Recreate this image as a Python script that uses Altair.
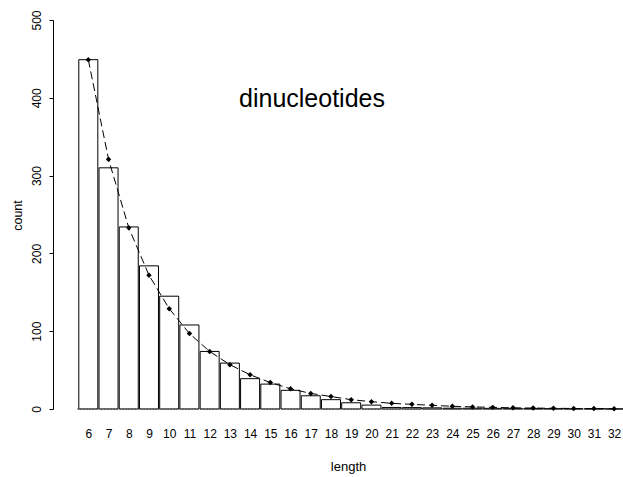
import altair as alt
import pandas as pd

lengths = [6, 7, 8, 9, 10, 11, 12, 13, 14, 15, 16, 17, 18, 19, 20,
           21, 22, 23, 24, 25, 26, 27, 28, 29, 30, 31, 32]
bar_counts = [449, 310, 234, 184, 145, 108, 74, 59, 39, 32,
              24, 17, 12, 8, 5, 2, 1.8, 1.5, 1, 1,
              0.8, 0.8, 0.5, 0.5, 0.3, 0.3, 0.2]
fit_counts = [449, 321, 233, 172, 129, 97, 74, 57, 44, 34,
              26, 20, 16, 12, 9.4, 7.3, 6, 4.7, 3.5, 2.7,
              2.1, 1.5, 1.2, 0.9, 0.7, 0.5, 0.4]
y_ticks = [0, 100, 200, 300, 400, 500]
annotation = "dinucleotides"

FONT = "Liberation Sans"

df = pd.DataFrame({"length": lengths, "count": bar_counts, "fit": fit_counts})

x_scale = alt.Scale(domain=[4.254, 32.44], nice=False, zero=False)
y_scale = alt.Scale(domain=[0, 500], nice=False)

x_axis = alt.Axis(
    title="length", values=lengths, domain=False, ticks=False, tickSize=0,
    grid=False, labelFontSize=12, labelFont=FONT, labelColor="black",
    labelPadding=28, labelBaseline="alphabetic", labelFlush=False,
    labelOverlap=False, titleFont=FONT, titleFontSize=13,
    titleFontWeight="normal", titleColor="black", titleX=295, titleY=61,
    titleBaseline="alphabetic", titleAlign="center",
)
y_axis = alt.Axis(
    title="count", values=y_ticks, grid=False, domainColor="black",
    tickColor="black", tickSize=4, labelAngle=270, labelAlign="center",
    labelBaseline="alphabetic", labelPadding=9, labelFontSize=12,
    labelFont=FONT, labelColor="black", titleFont=FONT, titleFontSize=12.5,
    titleFontWeight="normal", titleColor="black", titleAngle=270,
    titleX=-36, titleY=195, titleBaseline="middle", titleAlign="center",
)

base = alt.Chart(df)

bars = base.transform_calculate(
    x0="datum.length - 0.47", x1="datum.length + 0.47"
).mark_bar(fill="white", stroke="black", strokeWidth=1).encode(
    x=alt.X("x0:Q", scale=x_scale, axis=x_axis),
    x2="x1:Q",
    y=alt.Y("count:Q", scale=y_scale, axis=y_axis),
    y2=alt.datum(0),
)

baseline = base.mark_rule(color="#444", strokeWidth=1, strokeDash=[2, 1]).encode(
    x=alt.X("xs:Q", scale=x_scale, axis=x_axis),
    x2="xe:Q",
    y=alt.Y("zero:Q", scale=y_scale, axis=y_axis),
).transform_aggregate(n="count()").transform_calculate(
    xs="5.45", xe="32.44", zero="0"
)

line = base.mark_line(color="black", strokeWidth=1, strokeDash=[8, 4]).encode(
    x=alt.X("length:Q", scale=x_scale, axis=x_axis),
    y=alt.Y("fit:Q", scale=y_scale, axis=y_axis),
)

points = base.mark_point(shape="diamond", filled=True, size=30, color="black", opacity=1).encode(
    x=alt.X("length:Q", scale=x_scale, axis=x_axis),
    y=alt.Y("fit:Q", scale=y_scale, axis=y_axis),
)

label = alt.Chart(pd.DataFrame({"t": [annotation]})).mark_text(
    font=FONT, fontSize=25, color="black", align="center", baseline="alphabetic"
).encode(text="t:N", x=alt.value(259), y=alt.value(87))

chart = (bars + baseline + line + points + label).properties(
    width=570, height=389,
    background="white",
    autosize=alt.AutoSizeParams(type="none"),
    padding={"left": 53, "top": 20, "right": 0, "bottom": 68},
).configure_view(stroke="transparent", strokeWidth=0).configure_axis(
    grid=False
)

chart.save("out.html", embed_options={"renderer": "svg", "actions": False})
